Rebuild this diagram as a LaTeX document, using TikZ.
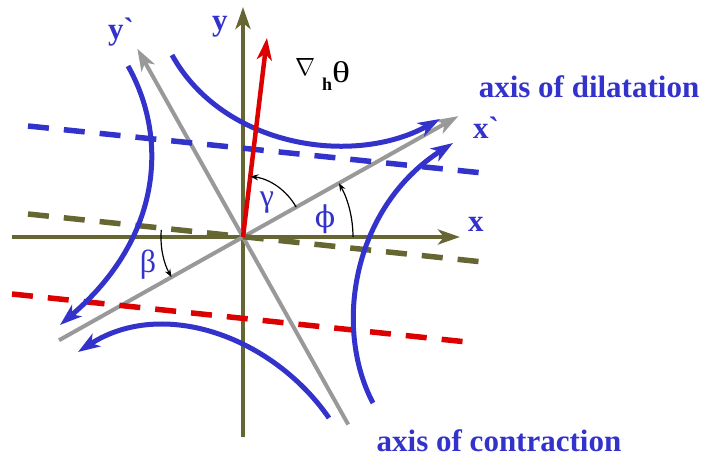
\documentclass[tikz,border=0pt]{standalone}
\usepackage{fontspec}
\setmainfont{Liberation Serif}[Ligatures=TeXOff]
\newfontfamily\grkfont{DejaVu Serif}
\usepackage{xcolor}
\definecolor{olv}{HTML}{666633}
\definecolor{flow}{HTML}{3333CC}
\definecolor{grd}{HTML}{DD0000}
\definecolor{rot}{HTML}{999999}
\usetikzlibrary{arrows.meta,positioning,calc}
\tikzset{
  >={Stealth[length=22pt,width=15pt,inset=6pt]},
  oax/.style={->,draw=olv,line width=4.5pt},
  gax/.style={->,draw=rot,line width=4pt},
  gvec/.style={->,draw=grd,line width=4.5pt},
  stream/.style={->,draw=flow,line width=5pt},
  dln/.style={draw=#1,line width=5.5pt,dash pattern=on 21pt off 15pt},
  ang/.style={-{Stealth[length=8pt,width=6pt]},draw=black,line width=1.2pt},
  glab/.style={text=flow,font=\fontsize{32}{32}\selectfont,inner sep=0pt},
}
\begin{document}
\begin{tikzpicture}[x=1pt,y=1pt,
  lab/.style={text=flow,font=\fontsize{31}{31}\selectfont\bfseries,inner sep=0pt}]
\useasboundingbox (-243,-222) rectangle (462,237);
% fixed axes
\coordinate (O) at (0,0);
\coordinate (xl) at (-231,0); \coordinate (xr) at (217,0);
\coordinate (yb) at (0,-200); \coordinate (yt) at (0,230);
\draw[oax] (xl)--(xr); \draw[-,draw=olv,line width=4.5pt] (yb)--(O); \draw[oax] (O)--(yt);
% rotated axes
\coordinate (xpl) at (209.3:211); \coordinate (xpr) at (29.3:247);
\coordinate (ypb) at (299.3:215); \coordinate (ypt) at (119.3:216);
\draw[gax] (xpl)--(xpr); \draw[gax] (ypb)--(ypt);
% dashed lines
\coordinate (ol) at (-215,23); \coordinate (or) at (240,-25);
\coordinate (bl) at (-215,111); \coordinate (br) at (240,64);
\coordinate (rl) at (-231,-57); \coordinate (rr) at (224,-105);
\draw[dln=olv] (ol)--(or); \draw[dln=flow] (bl)--(br); \draw[dln=grd] (rl)--(rr);
% streamlines
\draw[stream] (-71,182) .. controls (-20,90) and (110,70) .. (197,118);
\draw[stream] (130,-166) .. controls (90,-90) and (110,30) .. (210,94);
\draw[stream] (-115,171) .. controls (-75,100) and (-80,0) .. (-183,-88);
\draw[stream] (86,-181) .. controls (30,-100) and (-80,-60) .. (-165,-115);
% gradient
\coordinate (grad) at (24,199);
\draw[gvec] (O)--(grad);
% angles
\draw[ang] (29.3:61) arc[start angle=29.3,end angle=83.1,radius=61pt];
\draw[ang] (0:110) arc[start angle=0,end angle=29.3,radius=110pt];
\draw[ang] (175:82) arc[start angle=175,end angle=209.3,radius=82pt];
% labels
\node[lab] (ylab) at (-23,210) {y};
\node[lab] (yplab) at (-122,205) {y\char"60};
\node[lab] (xlab) at (233,13) {x};
\node[lab] (xplab) at (243,109) {x\char"60};
\node[lab] (dil) at (346,150) {axis of dilatation};
\node[lab] (con) at (256,-204) {axis of contraction};
\node[glab] (gam) at (24,34) {γ};
\node[glab,font=\fontsize{30}{30}\grkfont] (phi) at (82,18) {ϕ};
\node[glab] (bet) at (-95,-28) {β};
\node[anchor=base west,inner sep=0pt,font=\fontsize{30}{30}\selectfont] (gradlab) at (52,155)
  {\raisebox{7pt}{\resizebox{20pt}{17pt}{$\nabla$}}\hspace{7pt}\raisebox{-8pt}{\fontsize{18}{18}\selectfont\bfseries h}\scalebox{1.25}[1]{θ}};
\end{tikzpicture}
\end{document}
